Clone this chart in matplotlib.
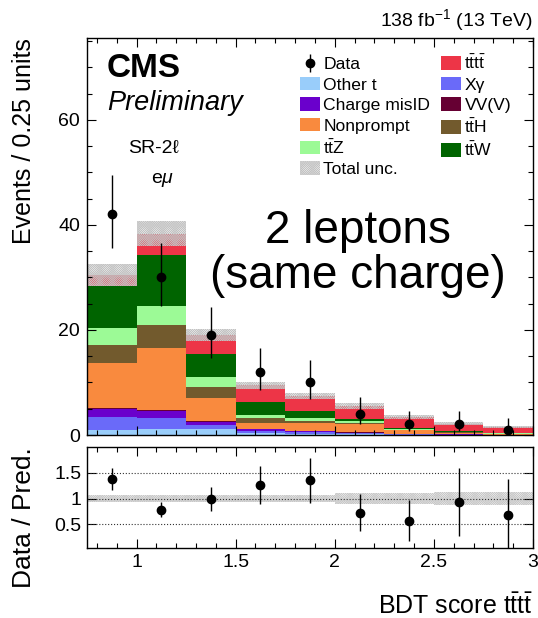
import numpy as np
import matplotlib
matplotlib.use('Agg')
import matplotlib.pyplot as plt
from matplotlib.ticker import MultipleLocator, FormatStrFormatter

plt.rcParams['font.family'] = ['Liberation Sans', 'DejaVu Sans']
plt.rcParams['mathtext.fontset'] = 'custom'
plt.rcParams['mathtext.rm'] = 'Liberation Sans'
plt.rcParams['mathtext.it'] = 'Liberation Sans:italic'
plt.rcParams['mathtext.bf'] = 'Liberation Sans:bold'
plt.rcParams['hatch.linewidth'] = 0.4
plt.rcParams['axes.linewidth'] = 1.0

# BDT score bins
edges = np.array([0.75, 1.0, 1.25, 1.5, 1.75, 2.0, 2.25, 2.5, 2.75, 3.0])

# predicted yields per bin, stacked bottom -> top
other_t      = [1.0, 1.1, 1.1, 0.3, 0.2, 0.1, 0.05, 0.02, 0.01]
xgamma       = [2.4, 2.1, 0.8, 0.45, 0.3, 0.2, 0.1, 0.05, 0.03]
charge_misid = [1.6, 1.35, 0.6, 0.4, 0.25, 0.15, 0.05, 0.03, 0.02]
vvv          = [0.15, 0.15, 0.1, 0.05, 0.05, 0.05, 0.02, 0.01, 0.01]
nonprompt    = [8.5, 11.9, 4.4, 1.0, 1.45, 1.55, 0.7, 0.35, 0.15]
tth          = [3.4, 4.4, 2.2, 1.0, 0.5, 0.3, 0.12, 0.1, 0.05]
ttz          = [3.4, 3.6, 1.9, 0.6, 0.5, 0.35, 0.12, 0.1, 0.05]
ttw          = [8.0, 9.6, 4.4, 2.45, 1.4, 0.3, 0.1, 0.1, 0.05]
tttt         = [2.0, 4.1, 3.55, 3.2, 2.75, 2.5, 2.25, 1.4, 1.08]
total_unc    = [2.1, 2.4, 1.2, 0.65, 0.55, 0.55, 0.37, 0.27, 0.18]

# observed data with asymmetric errors
data    = [42, 30, 19, 12, 10, 4, 2, 2, 1]
data_up = [7.56, 6.55, 5.43, 4.53, 4.26, 3.16, 2.64, 2.64, 2.30]
data_dn = [6.46, 5.45, 4.32, 3.41, 3.11, 1.91, 1.29, 1.29, 0.83]
ratio_err = [0.21, 0.14, 0.23, 0.37, 0.43, 0.36, 0.40, 0.66, 0.69]

components = [
    (other_t, '#99cdfa', 'Other t'),
    (xgamma, '#6a6af9', 'X\u03b3'),
    (charge_misid, '#6a00cc', 'Charge misID'),
    (vvv, '#660033', 'VV(V)'),
    (nonprompt, '#f98a3e', 'Nonprompt'),
    (tth, '#725a2d', r'$\mathrm{t\bar{t}H}$'),
    (ttz, '#9cfa96', r'$\mathrm{t\bar{t}Z}$'),
    (ttw, '#006400', r'$\mathrm{t\bar{t}W}$'),
    (tttt, '#ed3547', r'$\mathrm{t\bar{t}t\bar{t}}$'),
]

centers = 0.5 * (edges[1:] + edges[:-1])
width = edges[1] - edges[0]

fig = plt.figure(figsize=(5.38, 6.18), dpi=100)
ax = fig.add_axes([87/538, 1-435/618, 446/538, 397/618])
axr = fig.add_axes([87/538, 1-548/618, 446/538, 101/618])

handles = {}
cum = np.zeros(len(centers))
for vals, col, lab in components:
    vals = np.array(vals)
    h = ax.stairs(cum + vals, edges, baseline=cum, fill=True, color=col, label=lab)
    handles[lab] = h
    cum = cum + vals
total = cum
unc = np.array(total_unc)

hatch = 'x' * 18
unc_h = ax.bar(centers, 2*unc, bottom=total-unc, width=width, fill=False,
               hatch=hatch, edgecolor='#c2c2c2', linewidth=0, label='Total unc.')
data_h = ax.errorbar(centers, data, yerr=[data_dn, data_up], fmt='o', color='k',
                     ms=6, elinewidth=1.0, capsize=0, label='Data')

ax.set_xlim(0.75, 3.0)
ax.set_ylim(0, 75.6)
ax.xaxis.set_major_locator(MultipleLocator(0.5))
ax.xaxis.set_minor_locator(MultipleLocator(0.1))
ax.yaxis.set_major_locator(MultipleLocator(20))
ax.yaxis.set_minor_locator(MultipleLocator(5))
ax.tick_params(which='both', direction='in', top=True, right=True, labelbottom=False, width=0.8)
ax.tick_params(which='major', length=6.5, labelsize=14, pad=5)
ax.tick_params(which='minor', length=3.6)
ax.set_ylabel('Events / 0.25 units', fontsize=18, loc='top', va='baseline')
ax.yaxis.set_label_coords(-0.1256, 1.0)

order = ['Data', 'Other t', 'Charge misID', 'Nonprompt', r'$\mathrm{t\bar{t}Z}$', 'Total unc.',
         r'$\mathrm{t\bar{t}t\bar{t}}$', 'X\u03b3', 'VV(V)', r'$\mathrm{t\bar{t}H}$', r'$\mathrm{t\bar{t}W}$']
handles['Data'] = data_h
handles['Total unc.'] = unc_h
ax.legend([handles[k] for k in order], order, ncol=2, loc='upper left',
          bbox_to_anchor=(0.477, 0.960), frameon=False, fontsize=12.6,
          handlelength=1.15, handleheight=0.8, handletextpad=0.2,
          labelspacing=0.27, columnspacing=0.6, borderpad=0, borderaxespad=0)

ax.text(0.045, 0.902, 'CMS', transform=ax.transAxes, fontsize=24, fontweight='bold', va='baseline')
ax.text(0.045, 0.819, 'Preliminary', transform=ax.transAxes, fontsize=19.5, style='italic', va='baseline')
ax.text(0.148, 0.710, 'SR-2\u2113', transform=ax.transAxes, fontsize=14, ha='center', va='baseline')
ax.text(0.170, 0.634, r'e$\mathit{\mu}$', transform=ax.transAxes, fontsize=14, ha='center', va='baseline')
ax.text(0.608, 0.483, '2 leptons', transform=ax.transAxes, fontsize=33, ha='center', va='baseline')
ax.text(0.608, 0.370, '(same charge)', transform=ax.transAxes, fontsize=33, ha='center', va='baseline')
ax.text(1.0, 1.030, r'138 fb$^{-1}$ (13 TeV)', transform=ax.transAxes, fontsize=14, ha='right', va='baseline')

# ratio panel
ratio = np.array(data) / total
axr.bar(centers, 2*unc/total, bottom=1-unc/total, width=width, fill=False,
        hatch=hatch, edgecolor='#c8c8c8', linewidth=0)
for yv in [0.5, 1.0, 1.5]:
    axr.axhline(yv, color='#333333', linestyle=':', linewidth=0.8)
axr.errorbar(centers, ratio, yerr=ratio_err, fmt='o', color='k', ms=6, elinewidth=1.0, capsize=0)

axr.set_xlim(0.75, 3.0)
axr.set_ylim(0.04, 2.0)
axr.xaxis.set_major_locator(MultipleLocator(0.5))
axr.xaxis.set_minor_locator(MultipleLocator(0.1))
axr.xaxis.set_major_formatter(FormatStrFormatter('%g'))
axr.set_yticks([0.5, 1.0, 1.5], ['0.5', '1', '1.5'])
axr.tick_params(which='both', direction='in', top=True, right=True, width=0.8)
axr.tick_params(which='major', length=6.5, labelsize=14, pad=4)
axr.tick_params(which='minor', length=3.6)
axr.set_ylabel('Data / Pred.', fontsize=19, loc='top', va='baseline')
axr.yaxis.set_label_coords(-0.1256, 1.0)
axr.set_xlabel(r'BDT score $\mathrm{t\bar{t}t\bar{t}}$', fontsize=18, loc='right', va='baseline')
axr.xaxis.set_label_coords(1.0, -0.653)

fig.savefig('out.png', dpi=100)
